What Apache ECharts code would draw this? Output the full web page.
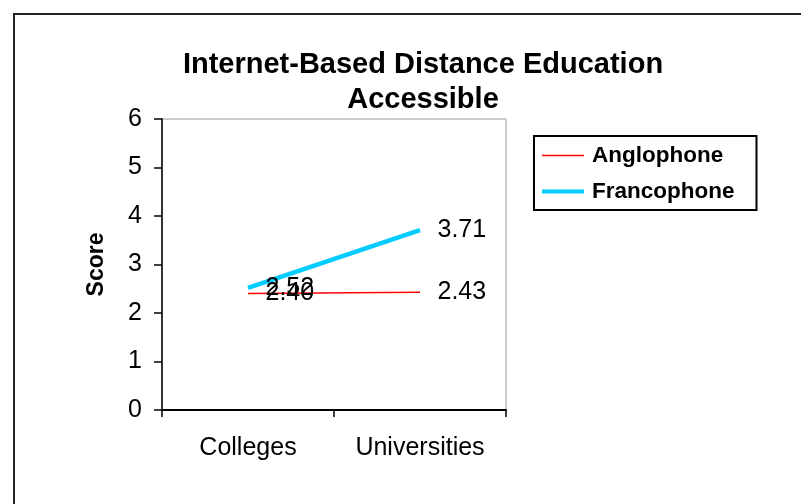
<!DOCTYPE html>
<html>
<head>
    <meta charset="utf-8"/>
    <title>ECharts</title>
    <script src="https://cdn.jsdelivr.net/npm/echarts@6/dist/echarts.min.js"></script>
</head>
<body style="margin:0">
<div id="main" style="width: 801px; height: 504px"></div>
<script type="text/javascript">
    var categories = ['Colleges', 'Universities'];
    var anglophone = [2.40, 2.43];
    var francophone = [2.52, 3.71];
    var yTicks = [0, 1, 2, 3, 4, 5, 6];

    var font = 'Liberation Sans, Arial, sans-serif';
    var myChart = echarts.init(document.getElementById('main'));

    // value labels drawn to the right of each point
    var valueLabel = {
        show: true, position: 'right', distance: 17,
        fontFamily: font, fontSize: 25, color: '#000',
        formatter: function (p) { return p.value.toFixed(2); }
    };

    var option = {
        backgroundColor: '#fff',
        animation: false,
        title: {
            text: 'Internet-Based Distance Education\nAccessible',
            left: 418,
            top: 42,
            textAlign: 'center',
            textStyle: {
                fontFamily: font,
                fontWeight: 'bold',
                fontSize: 29,
                lineHeight: 35,
                color: '#000'
            }
        },
        legend: {
            orient: 'vertical',
            left: 534,
            top: 136,
            padding: [8, 22, 7, 8],
            itemGap: 13,
            itemWidth: 42,
            itemHeight: 4,
            borderColor: '#000',
            borderWidth: 2,
            textStyle: { fontFamily: font, fontWeight: 'bold', fontSize: 22.5, color: '#000', padding: [0, 0, 0, 3] },
            data: [
                {
                    name: 'Anglophone', icon: 'path://M0,0H42V1.5H0Z',
                    itemStyle: { color: '#ff0000', opacity: 1, borderWidth: 0, borderColor: '#ff0000' }
                },
                {
                    name: 'Francophone', icon: 'path://M0,0H42V4H0Z',
                    itemStyle: { color: '#00ccff', opacity: 1, borderWidth: 0, borderColor: '#00ccff' }
                }
            ]
        },
        grid: {
            left: 162,
            top: 119,
            right: 295,
            bottom: 94,
            show: true,
            borderColor: '#999',
            borderWidth: 1
        },
        xAxis: {
            type: 'category',
            data: categories,
            boundaryGap: true,
            axisLine: { lineStyle: { color: '#000', width: 2 } },
            axisTick: { show: true, length: 7, lineStyle: { color: '#000', width: 1.5 } },
            axisLabel: { fontFamily: font, fontSize: 25, color: '#000', margin: 26 }
        },
        yAxis: {
            type: 'value',
            min: 0,
            max: 6,
            interval: 1,
            name: 'Score',
            nameLocation: 'middle',
            nameRotate: 90,
            nameGap: 54,
            nameTextStyle: { fontFamily: font, fontWeight: 'bold', fontSize: 23, color: '#000' },
            axisLine: { show: true, lineStyle: { color: '#000', width: 1.5 } },
            axisTick: { show: true, length: 8, lineStyle: { color: '#000', width: 1.5 } },
            axisLabel: {
                fontFamily: font, fontSize: 25, color: '#000', margin: 20,
                formatter: function (v) { return yTicks.indexOf(v) >= 0 ? String(v) : ''; }
            },
            splitLine: { show: false }
        },
        series: [
            {
                name: 'Anglophone',
                type: 'line',
                data: anglophone,
                symbol: 'circle',
                symbolSize: 1,
                showSymbol: true,
                itemStyle: { color: 'rgba(0,0,0,0)' },
                lineStyle: { color: '#ff0000', width: 1.5 },
                label: valueLabel
            },
            {
                name: 'Francophone',
                type: 'line',
                data: francophone,
                symbol: 'circle',
                symbolSize: 1,
                showSymbol: true,
                itemStyle: { color: 'rgba(0,0,0,0)' },
                lineStyle: { color: '#00ccff', width: 4.5 },
                label: valueLabel
            }
        ],
        graphic: [
            {
                type: 'rect',
                shape: { x: 14, y: 14, width: 800, height: 500 },
                style: { fill: 'none', stroke: '#222', lineWidth: 2 },
                silent: true
            }
        ]
    };

    myChart.setOption(option);
</script>
</body>
</html>
